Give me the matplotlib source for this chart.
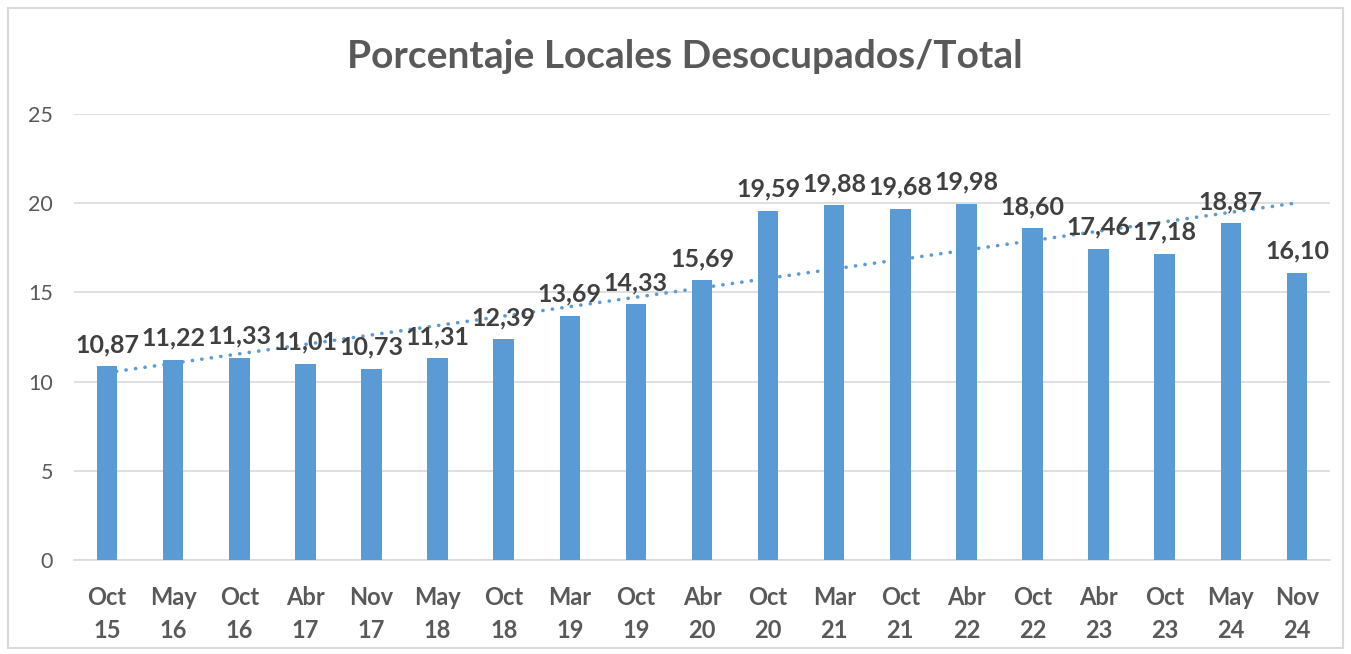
import numpy as np
import matplotlib
matplotlib.use("Agg")
import matplotlib.pyplot as plt
from matplotlib.patches import Rectangle

categories = ["Oct\n15", "May\n16", "Oct\n16", "Abr\n17", "Nov\n17", "May\n18", "Oct\n18",
              "Mar\n19", "Oct\n19", "Abr\n20", "Oct\n20", "Mar\n21", "Oct\n21", "Abr\n22",
              "Oct\n22", "Abr\n23", "Oct\n23", "May\n24", "Nov\n24"]
values = [10.87, 11.22, 11.33, 11.01, 10.73, 11.31, 12.39, 13.69, 14.33, 15.69,
          19.59, 19.88, 19.68, 19.98, 18.60, 17.46, 17.18, 18.87, 16.10]
title = "Porcentaje Locales Desocupados/Total"
yticks = [0, 5, 10, 15, 20, 25]

plt.rcParams['font.family'] = ['Lato', 'DejaVu Sans']

fig = plt.figure(figsize=(13.51, 6.54), dpi=100)
ax = fig.add_axes([74/1351, 1-560/654, (1330-74)/1351, (560-114)/654])

x = np.arange(len(values))
bar_color = "#5B9BD5"
ax.bar(x, values, width=0.31, color=bar_color, zorder=3)

# linear trend line
coef = np.polyfit(x, values, 1)
ax.plot(x, np.polyval(coef, x), linestyle=(0, (0.05, 2.6)), color=bar_color, lw=2.6,
        zorder=2, dash_capstyle='round', solid_capstyle='round')

for xi, v in zip(x, values):
    ax.annotate(f"{v:.2f}".replace(".", ","), (xi, v), xytext=(0, 10),
                textcoords="offset pixels", ha="center", va="bottom",
                fontsize=18, fontweight="bold", color="#404040", zorder=5)

ax.set_xlim(-0.5, len(values) - 0.5)
ax.set_ylim(0, 25)
ax.set_yticks(yticks)
ax.set_yticklabels([str(t) for t in yticks], fontsize=15.5, color="#595959")
ax.set_xticks(x)
ax.set_xticklabels(categories, fontsize=17, fontweight="bold", color="#595959",
                   linespacing=1.5)
ax.tick_params(axis="both", length=0)
ax.tick_params(axis="y", pad=15)
ax.tick_params(axis="x", pad=19)
ax.grid(axis="y", color="#D9D9D9", lw=1.2, zorder=0)
ax.set_axisbelow(True)
for s in ["top", "right", "left"]:
    ax.spines[s].set_visible(False)
ax.spines["bottom"].set_color("#D9D9D9")
ax.spines["bottom"].set_linewidth(1.2)

fig.text(685/1351, 1-57/654, title, ha="center", va="center", fontsize=28,
         fontweight="bold", color="#595959")

fig.patches.append(Rectangle((8/1351, 6/654), (1343-8)/1351, (646-6)/654,
                             transform=fig.transFigure, fill=False,
                             edgecolor="#D9D9D9", lw=1.5))

fig.savefig("out.png", dpi=100)
